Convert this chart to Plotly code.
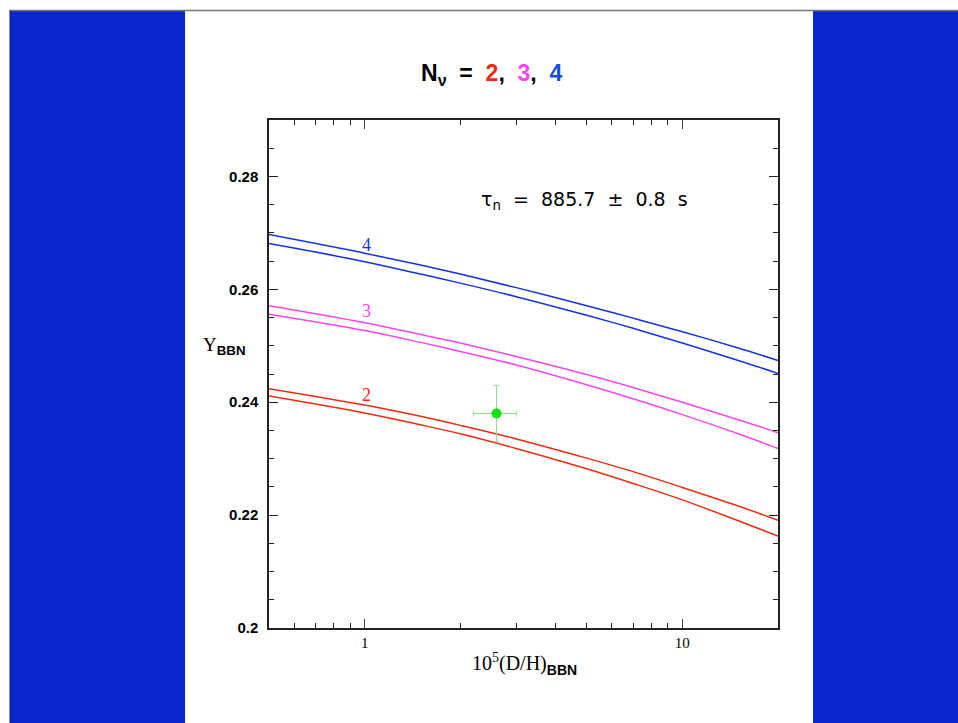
import plotly.graph_objects as go
import math

# ---- data ----
x_grid = [0.5, 1, 1.5, 2, 3, 5, 7, 10, 15, 20]
n2_upper = [0.2424, 0.2395, 0.2375, 0.2359, 0.2335, 0.2301, 0.2277, 0.2249, 0.2216, 0.2191]
n2_lower = [0.2411, 0.2381, 0.2360, 0.2344, 0.2318, 0.2282, 0.2256, 0.2227, 0.2190, 0.2163]
n3_upper = [0.2571, 0.2541, 0.2520, 0.2505, 0.2481, 0.2449, 0.2426, 0.2400, 0.2369, 0.2346]
n3_lower = [0.2556, 0.2527, 0.2506, 0.2490, 0.2466, 0.2431, 0.2406, 0.2378, 0.2344, 0.2318]
n4_upper = [0.2697, 0.2664, 0.2643, 0.2627, 0.2603, 0.2571, 0.2549, 0.2525, 0.2496, 0.2474]
n4_lower = [0.2681, 0.2649, 0.2627, 0.2611, 0.2587, 0.2554, 0.2531, 0.2505, 0.2474, 0.2451]

obs_x = [2.6]
obs_y = [0.238]
obs_x_err_plus = [0.4]
obs_x_err_minus = [0.4]
obs_y_err = [0.005]

curve_labels = ["2", "3", "4"]
label_x = [1.01, 1.01, 1.01]
label_y = [0.2412, 0.2561, 0.2678]

y_tickvals = [0.2, 0.22, 0.24, 0.26, 0.28]
y_ticktext = ["0.2", "0.22", "0.24", "0.26", "0.28"]
x_tickvals = [1, 10]
x_ticktext = ["1", "10"]
x_minor = [0.6, 0.7, 0.8, 0.9, 2, 3, 4, 5, 6, 7, 8, 9]

RED = "#f02a10"
MAG = "#fb45ee"
BLUE = "#1432e0"
PANEL = "#0a26cf"

fig = go.Figure()
for ys, c in [(n2_upper, RED), (n2_lower, RED), (n3_upper, MAG), (n3_lower, MAG),
              (n4_upper, BLUE), (n4_lower, BLUE)]:
    fig.add_trace(go.Scatter(x=x_grid, y=ys, mode="lines", line=dict(color=c, width=1.5),
                             line_shape="spline", showlegend=False, hoverinfo="skip"))

fig.add_trace(go.Scatter(
    x=obs_x, y=obs_y, mode="markers",
    marker=dict(color="#00e600", size=10),
    error_x=dict(type="data", array=obs_x_err_plus, arrayminus=obs_x_err_minus,
                 color="#90e090", thickness=1, width=3),
    error_y=dict(type="data", array=obs_y_err, color="#90e090", thickness=1, width=3),
    showlegend=False))

# Plot-area geometry in pixels
L, R, T, B = 269, 778, 120, 628
W, H = 958, 723
def xp(px):
    return (px - L) / (R - L)
def yp(py):
    return (B - py) / (B - T)

shapes = [
    dict(type="rect", xref="paper", yref="paper", x0=xp(10), x1=xp(185), y0=yp(723), y1=yp(10),
         fillcolor=PANEL, line=dict(width=0), layer="below"),
    dict(type="rect", xref="paper", yref="paper", x0=xp(813), x1=xp(958), y0=yp(723), y1=yp(10),
         fillcolor=PANEL, line=dict(width=0), layer="below"),
    dict(type="line", xref="paper", yref="paper", x0=xp(10), x1=xp(958), y0=yp(10.5), y1=yp(10.5),
         line=dict(color="#777777", width=1.5)),
    dict(type="line", xref="paper", yref="paper", x0=xp(10), x1=xp(10), y0=yp(723), y1=yp(10),
         line=dict(color="#0a1a70", width=1)),
]

annotations = []
for t, lx, ly, c in zip(curve_labels, label_x, label_y, [RED, MAG, BLUE]):
    annotations.append(dict(x=math.log10(lx), y=ly, xref="x", yref="y", text=t, showarrow=False,
                            xanchor="center", yanchor="middle",
                            font=dict(family="Liberation Serif", size=18, color=c)))

annotations.append(dict(
    x=xp(492), y=yp(75), xref="paper", yref="paper", showarrow=False,
    xanchor="center", yanchor="middle",
    text=("<b>N<sub>ν</sub> \u00a0=\u00a0 <span style='color:%s'>2</span>,\u00a0 "
          "<span style='color:%s'>3</span>,\u00a0 <span style='color:%s'>4</span></b>") % (RED, MAG, "#1450d8"),
    font=dict(family="Liberation Sans", size=23, color="black")))

annotations.append(dict(
    x=xp(584), y=yp(200), xref="paper", yref="paper", showarrow=False,
    xanchor="center", yanchor="middle",
    text="τ<sub>n</sub>\u00a0 =\u00a0 885.7\u00a0 ±\u00a0 0.8\u00a0 s",
    font=dict(family="DejaVu Sans", size=19, color="black")))

annotations.append(dict(
    x=xp(224), y=yp(346), xref="paper", yref="paper", showarrow=False,
    xanchor="center", yanchor="middle",
    text="Y<sub><b><span style='font-family:Liberation Sans'>BBN</span></b></sub>",
    font=dict(family="Liberation Serif", size=19, color="black")))

annotations.append(dict(
    x=xp(524), y=yp(664), xref="paper", yref="paper", showarrow=False,
    xanchor="center", yanchor="middle",
    text="10<sup>5</sup>(D/H)<sub><b><span style='font-family:Liberation Sans'>BBN</span></b></sub>",
    font=dict(family="Liberation Serif", size=20, color="black")))

fig.update_layout(
    width=W, height=H,
    margin=dict(l=L, r=W - R, t=T, b=H - B, pad=0),
    paper_bgcolor="white", plot_bgcolor="white",
    shapes=shapes, annotations=annotations,
    showlegend=False,
)

fig.update_xaxes(
    type="log", range=[math.log10(0.5), math.log10(20)],
    tickvals=x_tickvals, ticktext=x_ticktext,
    ticks="inside", ticklen=9, tickwidth=1.3, tickcolor="#444",
    showline=True, linecolor="#222", linewidth=1.5, mirror="ticks",
    showgrid=False, zeroline=False,
    tickfont=dict(family="Liberation Serif", size=15, color="black"),
    minor=dict(tickvals=x_minor, ticks="inside", ticklen=5, tickwidth=1.2, tickcolor="#222", showgrid=False),
)
fig.update_yaxes(
    range=[0.2, 0.29],
    tickvals=y_tickvals, ticktext=["<b>%s</b>" % t for t in y_ticktext],
    ticks="inside", ticklen=9, tickwidth=1.3, tickcolor="#222",
    showline=True, linecolor="#222", linewidth=1.5, mirror="ticks",
    showgrid=False, zeroline=False,
    tickfont=dict(family="Liberation Sans", size=15, color="black"),
    minor=dict(dtick=0.005, tick0=0.2, ticks="inside", ticklen=5, tickwidth=1.2, tickcolor="#222", showgrid=False),
    ticklabelstandoff=6,
)

fig.write_html("out.html")
